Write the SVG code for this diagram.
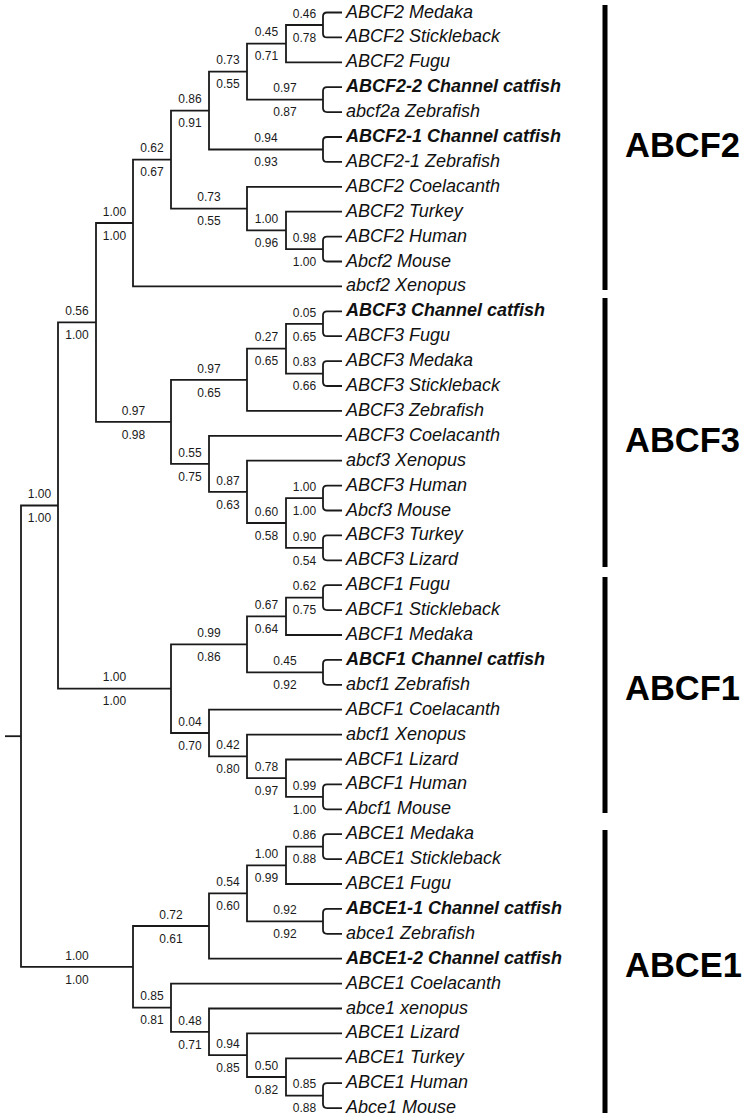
<svg xmlns="http://www.w3.org/2000/svg" width="743" height="1120" viewBox="0 0 743 1120">
<style>
.br{fill:none;stroke:#1a1a1a;stroke-width:1.8;stroke-linejoin:miter}
.bs{font-family:"Liberation Sans",Arial,sans-serif;font-size:12px;text-anchor:middle;fill:#1a1a1a}
.lf{font-family:"Liberation Sans",Arial,sans-serif;font-size:18px;font-style:italic;fill:#111}
.cf{font-weight:bold}
.cl{font-family:"Liberation Sans",Arial,sans-serif;font-size:34.5px;font-weight:bold;fill:#000}
.bar{fill:#000}
</style>
<rect width="743" height="1120" fill="#fff"/>
<g id="connectors" class="br">
<path d="M5 736.2H21"/>
<path d="M58 505.5H21V966.9H133"/>
<path d="M96 322.4H58V688.7H171"/>
<path d="M133 223H96V421.8H171"/>
<path d="M171 159.6H133V286.4H342"/>
<path d="M209 110.6H171V208.6H247"/>
<path d="M247 71.6H209V149.5H323"/>
<path d="M286 43.6H247V99.7H323"/>
<path d="M323 25H286V62.3H342"/>
<path d="M342 12.5H327Q323 12.5 323 16.5V33.4Q323 37.4 327 37.4H342"/>
<path d="M342 87.2H327Q323 87.2 323 91.2V108.1Q323 112.1 327 112.1H342"/>
<path d="M342 137H327Q323 137 323 141V157.9Q323 161.9 327 161.9H342"/>
<path d="M342 186.8H247V230.4H286"/>
<path d="M342 211.7H286V249.1H323"/>
<path d="M342 236.6H327Q323 236.6 323 240.6V257.5Q323 261.5 327 261.5H342"/>
<path d="M247 379.8H171V463.8H209"/>
<path d="M286 348.7H247V410.9H342"/>
<path d="M323 323.8H286V373.6H323"/>
<path d="M342 311.3H327Q323 311.3 323 315.3V332.2Q323 336.2 327 336.2H342"/>
<path d="M342 361.1H327Q323 361.1 323 365.1V382Q323 386 327 386H342"/>
<path d="M342 435.8H209V491.8H247"/>
<path d="M342 460.7H247V523H286"/>
<path d="M323 498.1H286V547.9H323"/>
<path d="M342 485.6H327Q323 485.6 323 489.6V506.5Q323 510.5 327 510.5H342"/>
<path d="M342 535.4H327Q323 535.4 323 539.4V556.3Q323 560.3 327 560.3H342"/>
<path d="M247 644.3H171V733H209"/>
<path d="M286 616.3H247V672.4H323"/>
<path d="M323 597.7H286V635H342"/>
<path d="M342 585.2H327Q323 585.2 323 589.2V606.1Q323 610.1 327 610.1H342"/>
<path d="M342 659.9H327Q323 659.9 323 663.9V680.8Q323 684.8 327 684.8H342"/>
<path d="M342 709.7H209V756.4H247"/>
<path d="M342 734.6H247V778.2H286"/>
<path d="M342 759.5H286V796.9H323"/>
<path d="M342 784.4H327Q323 784.4 323 788.4V805.3Q323 809.3 327 809.3H342"/>
<path d="M209 926H133V1007.7H171"/>
<path d="M247 893.3H209V958.7H342"/>
<path d="M286 865.3H247V921.4H323"/>
<path d="M323 846.7H286V884H342"/>
<path d="M342 834.2H327Q323 834.2 323 838.2V855.1Q323 859.1 327 859.1H342"/>
<path d="M342 908.9H327Q323 908.9 323 912.9V929.8Q323 933.8 327 933.8H342"/>
<path d="M342 983.6H171V1031.8H209"/>
<path d="M342 1008.5H209V1055.2H247"/>
<path d="M342 1033.4H247V1077H286"/>
<path d="M342 1058.3H286V1095.7H323"/>
<path d="M342 1083.2H327Q323 1083.2 323 1087.2V1104.1Q323 1108.1 327 1108.1H342"/>
</g>
<g id="support-values" class="bs">
<g id="s-a1"><text x="304.5" y="17.7">0.46</text><text x="304.5" y="41.7">0.78</text></g>
<g id="s-a2"><text x="266.5" y="36.3">0.45</text><text x="266.5" y="60.3">0.71</text></g>
<g id="s-a3"><text x="285" y="92.4">0.97</text><text x="285" y="116.4">0.87</text></g>
<g id="s-a4"><text x="228" y="64.3">0.73</text><text x="228" y="88.3">0.55</text></g>
<g id="s-a5"><text x="266" y="142.2">0.94</text><text x="266" y="166.2">0.93</text></g>
<g id="s-a6"><text x="190" y="103.3">0.86</text><text x="190" y="127.3">0.91</text></g>
<g id="s-a7"><text x="304.5" y="241.8">0.98</text><text x="304.5" y="265.8">1.00</text></g>
<g id="s-a8"><text x="266.5" y="223.1">1.00</text><text x="266.5" y="247.1">0.96</text></g>
<g id="s-a9"><text x="209" y="201.3">0.73</text><text x="209" y="225.3">0.55</text></g>
<g id="s-a10"><text x="152" y="152.3">0.62</text><text x="152" y="176.3">0.67</text></g>
<g id="s-a11"><text x="114.5" y="215.7">1.00</text><text x="114.5" y="239.7">1.00</text></g>
<g id="s-b1"><text x="304.5" y="316.5">0.05</text><text x="304.5" y="340.5">0.65</text></g>
<g id="s-b2"><text x="304.5" y="366.3">0.83</text><text x="304.5" y="390.3">0.66</text></g>
<g id="s-b3"><text x="266.5" y="341.4">0.27</text><text x="266.5" y="365.4">0.65</text></g>
<g id="s-b4"><text x="209" y="372.5">0.97</text><text x="209" y="396.5">0.65</text></g>
<g id="s-b5"><text x="304.5" y="490.8">1.00</text><text x="304.5" y="514.8">1.00</text></g>
<g id="s-b6"><text x="304.5" y="540.6">0.90</text><text x="304.5" y="564.6">0.54</text></g>
<g id="s-b7"><text x="266.5" y="515.7">0.60</text><text x="266.5" y="539.7">0.58</text></g>
<g id="s-b8"><text x="228" y="484.5">0.87</text><text x="228" y="508.5">0.63</text></g>
<g id="s-b9"><text x="190" y="456.5">0.55</text><text x="190" y="480.5">0.75</text></g>
<g id="s-b10"><text x="133.5" y="414.5">0.97</text><text x="133.5" y="438.5">0.98</text></g>
<g id="s-f23"><text x="77" y="315.1">0.56</text><text x="77" y="339.1">1.00</text></g>
<g id="s-c1"><text x="304.5" y="590.4">0.62</text><text x="304.5" y="614.4">0.75</text></g>
<g id="s-c2"><text x="266.5" y="609">0.67</text><text x="266.5" y="633">0.64</text></g>
<g id="s-c3"><text x="285" y="665.1">0.45</text><text x="285" y="689.1">0.92</text></g>
<g id="s-c4"><text x="209" y="637">0.99</text><text x="209" y="661">0.86</text></g>
<g id="s-c5"><text x="304.5" y="789.6">0.99</text><text x="304.5" y="813.6">1.00</text></g>
<g id="s-c6"><text x="266.5" y="770.9">0.78</text><text x="266.5" y="794.9">0.97</text></g>
<g id="s-c7"><text x="228" y="749.1">0.42</text><text x="228" y="773.1">0.80</text></g>
<g id="s-c8"><text x="190" y="725.7">0.04</text><text x="190" y="749.7">0.70</text></g>
<g id="s-c9"><text x="114.5" y="681.4">1.00</text><text x="114.5" y="705.4">1.00</text></g>
<g id="s-f"><text x="39.5" y="498.2">1.00</text><text x="39.5" y="522.2">1.00</text></g>
<g id="s-d1"><text x="304.5" y="839.4">0.86</text><text x="304.5" y="863.4">0.88</text></g>
<g id="s-d2"><text x="266.5" y="858">1.00</text><text x="266.5" y="882">0.99</text></g>
<g id="s-d3"><text x="285" y="914.1">0.92</text><text x="285" y="938.1">0.92</text></g>
<g id="s-d4"><text x="228" y="886">0.54</text><text x="228" y="910">0.60</text></g>
<g id="s-d5"><text x="171" y="918.7">0.72</text><text x="171" y="942.7">0.61</text></g>
<g id="s-d6"><text x="304.5" y="1088.4">0.85</text><text x="304.5" y="1112.4">0.88</text></g>
<g id="s-d7"><text x="266.5" y="1069.7">0.50</text><text x="266.5" y="1093.7">0.82</text></g>
<g id="s-d8"><text x="228" y="1047.9">0.94</text><text x="228" y="1071.9">0.85</text></g>
<g id="s-d9"><text x="190" y="1024.6">0.48</text><text x="190" y="1048.6">0.71</text></g>
<g id="s-d10"><text x="152" y="1000.4">0.85</text><text x="152" y="1024.4">0.81</text></g>
<g id="s-d11"><text x="77" y="959.6">1.00</text><text x="77" y="983.6">1.00</text></g>
</g>
<g id="leaves" class="lf">
<g id="leaf0"><text x="346" y="17.5">ABCF2 Medaka</text></g>
<g id="leaf1"><text x="346" y="42.4">ABCF2 Stickleback</text></g>
<g id="leaf2"><text x="346" y="67.3">ABCF2 Fugu</text></g>
<g id="leaf3"><text x="346" y="92.2" class="cf">ABCF2-2 Channel catfish</text></g>
<g id="leaf4"><text x="346" y="117.1">abcf2a Zebrafish</text></g>
<g id="leaf5"><text x="346" y="142" class="cf">ABCF2-1 Channel catfish</text></g>
<g id="leaf6"><text x="346" y="166.9">ABCF2-1 Zebrafish</text></g>
<g id="leaf7"><text x="346" y="191.8">ABCF2 Coelacanth</text></g>
<g id="leaf8"><text x="346" y="216.7">ABCF2 Turkey</text></g>
<g id="leaf9"><text x="346" y="241.6">ABCF2 Human</text></g>
<g id="leaf10"><text x="346" y="266.5">Abcf2 Mouse</text></g>
<g id="leaf11"><text x="346" y="291.4">abcf2 Xenopus</text></g>
<g id="leaf12"><text x="346" y="316.3" class="cf">ABCF3 Channel catfish</text></g>
<g id="leaf13"><text x="346" y="341.2">ABCF3 Fugu</text></g>
<g id="leaf14"><text x="346" y="366.1">ABCF3 Medaka</text></g>
<g id="leaf15"><text x="346" y="391">ABCF3 Stickleback</text></g>
<g id="leaf16"><text x="346" y="415.9">ABCF3 Zebrafish</text></g>
<g id="leaf17"><text x="346" y="440.8">ABCF3 Coelacanth</text></g>
<g id="leaf18"><text x="346" y="465.7">abcf3 Xenopus</text></g>
<g id="leaf19"><text x="346" y="490.6">ABCF3 Human</text></g>
<g id="leaf20"><text x="346" y="515.5">Abcf3 Mouse</text></g>
<g id="leaf21"><text x="346" y="540.4">ABCF3 Turkey</text></g>
<g id="leaf22"><text x="346" y="565.3">ABCF3 Lizard</text></g>
<g id="leaf23"><text x="346" y="590.2">ABCF1 Fugu</text></g>
<g id="leaf24"><text x="346" y="615.1">ABCF1 Stickleback</text></g>
<g id="leaf25"><text x="346" y="640">ABCF1 Medaka</text></g>
<g id="leaf26"><text x="346" y="664.9" class="cf">ABCF1 Channel catfish</text></g>
<g id="leaf27"><text x="346" y="689.8">abcf1 Zebrafish</text></g>
<g id="leaf28"><text x="346" y="714.7">ABCF1 Coelacanth</text></g>
<g id="leaf29"><text x="346" y="739.6">abcf1 Xenopus</text></g>
<g id="leaf30"><text x="346" y="764.5">ABCF1 Lizard</text></g>
<g id="leaf31"><text x="346" y="789.4">ABCF1 Human</text></g>
<g id="leaf32"><text x="346" y="814.3">Abcf1 Mouse</text></g>
<g id="leaf33"><text x="346" y="839.2">ABCE1 Medaka</text></g>
<g id="leaf34"><text x="346" y="864.1">ABCE1 Stickleback</text></g>
<g id="leaf35"><text x="346" y="889">ABCE1 Fugu</text></g>
<g id="leaf36"><text x="346" y="913.9" class="cf">ABCE1-1 Channel catfish</text></g>
<g id="leaf37"><text x="346" y="938.8">abce1 Zebrafish</text></g>
<g id="leaf38"><text x="346" y="963.7" class="cf">ABCE1-2 Channel catfish</text></g>
<g id="leaf39"><text x="346" y="988.6">ABCE1 Coelacanth</text></g>
<g id="leaf40"><text x="346" y="1013.5">abce1 xenopus</text></g>
<g id="leaf41"><text x="346" y="1038.4">ABCE1 Lizard</text></g>
<g id="leaf42"><text x="346" y="1063.3">ABCE1 Turkey</text></g>
<g id="leaf43"><text x="346" y="1088.2">ABCE1 Human</text></g>
<g id="leaf44"><text x="346" y="1113.1">Abce1 Mouse</text></g>
</g>
<g id="clade-ABCF2"><rect class="bar" x="602.5" y="5" width="5" height="285"/><text class="cl" x="625" y="157">ABCF2</text></g>
<g id="clade-ABCF3"><rect class="bar" x="602.5" y="298" width="5" height="269"/><text class="cl" x="625" y="452">ABCF3</text></g>
<g id="clade-ABCF1"><rect class="bar" x="602.5" y="577" width="5" height="236"/><text class="cl" x="625" y="700">ABCF1</text></g>
<g id="clade-ABCE1"><rect class="bar" x="602.5" y="830" width="5" height="283"/><text class="cl" x="625" y="977">ABCE1</text></g>
</svg>
